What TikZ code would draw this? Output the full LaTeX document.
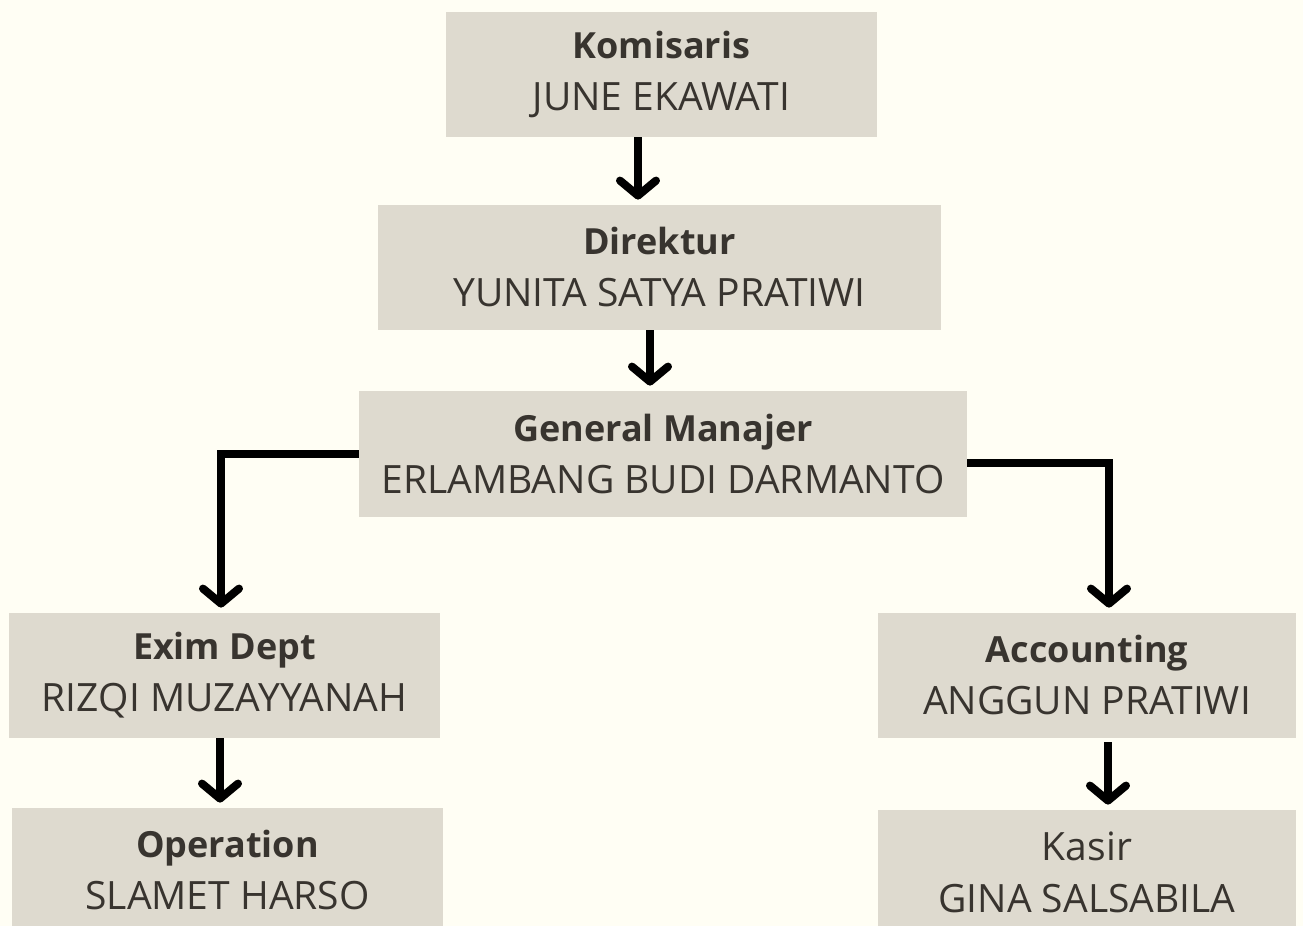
\documentclass[tikz,border=0pt]{standalone}
\usepackage{fontspec}
\setmainfont{Open Sans}
\usetikzlibrary{arrows.meta}

\definecolor{paper}{HTML}{FFFEF4}
\definecolor{boxfill}{HTML}{DEDACF}
\definecolor{ink}{HTML}{38342F}

\newcommand{\boxtitle}[1]{{\fontsize{18}{26}\selectfont\bfseries #1}}

\tikzset{
  orgbox/.style={fill=boxfill, text=ink, align=center, inner sep=0pt,
    minimum height=62.5pt, font=\fontsize{19.5}{26}\selectfont},
  link/.style={line width=4pt, shorten >=2.5pt,
    -{Straight Barb[length=7.5pt,width=18pt,round]}}
}

\begin{document}
\begin{tikzpicture}[x=0.5pt,y=-0.5pt]

\fill[paper] (0,0) rectangle (1303,926);
\useasboundingbox (0,0) rectangle (1303,926);

% boxes
\node[orgbox, minimum width=215.5pt] (kom) at (661.5,74.5) {\boxtitle{Komisaris}\\JUNE EKAWATI};
\node[orgbox, minimum width=281.5pt] (dir) at (659.5,267.5) {\boxtitle{Direktur}\\YUNITA SATYA PRATIWI};
\node[orgbox, minimum width=304pt, minimum height=63pt] (gm) at (663,454) {\boxtitle{General Manajer}\\ERLAMBANG BUDI DARMANTO};
\node[orgbox, minimum width=215.5pt] (exim) at (224.5,675.5) {\boxtitle{Exim Dept}\\RIZQI MUZAYYANAH};
\node[orgbox, minimum width=209pt] (acc) at (1087,675.5) {\boxtitle{Accounting}\\ANGGUN PRATIWI};
\node[orgbox, minimum width=215.5pt] (ops) at (227.5,870.5) {\boxtitle{Operation}\\SLAMET HARSO};
\node[orgbox, minimum width=209pt] (kasir) at (1087,872.5) {Kasir\\GINA SALSABILA};

% arrows
\draw[link] ([xshift=-11.75pt]kom.south) -- ([xshift=-11.75pt]kom.south |- dir.north);
\draw[link] ([xshift=-4.75pt]dir.south) -- ([xshift=-4.75pt]dir.south |- gm.north);
\draw[link] (gm.west) -| ([xshift=-1.75pt]exim.north);
\draw[link] ([yshift=-4.5pt]gm.east) -| ([xshift=11pt]acc.north);
\draw[link] ([xshift=-2.25pt]exim.south) -- ([xshift=-2.25pt]exim.south |- ops.north);
\draw[link] ([xshift=10.5pt,yshift=-2pt]acc.south) -- ([xshift=10.5pt]acc.south |- kasir.north);

\end{tikzpicture}
\end{document}
